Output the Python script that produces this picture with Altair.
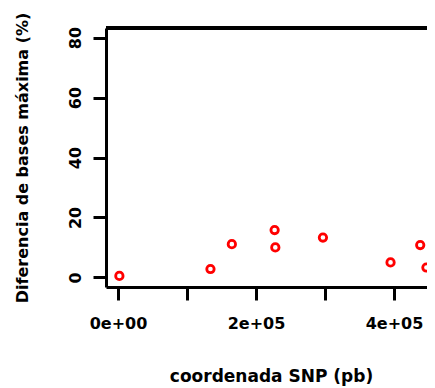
import altair as alt
import pandas as pd

x_pos = [2000, 134000, 165000, 227000, 228000, 297000, 395000, 438000, 447000]
y_diff = [0.5, 2.8, 11.1, 15.8, 10.0, 13.3, 5.0, 10.8, 3.3]
x_ticks = [0, 100000, 200000, 300000, 400000]
y_ticks = [0, 20, 40, 60, 80]

df = pd.DataFrame({"x": x_pos, "y": y_diff})

W, H = 321, 259
FONT = "DejaVu Sans"

x_scale = alt.Scale(domain=[-17391, 447826], nice=False, zero=False)
y_scale = alt.Scale(domain=[-3.2, 83.2], nice=False, zero=False)

points = alt.Chart(df).mark_point(
    shape="circle", filled=False, color="#ff0000", size=55, strokeWidth=2.8, opacity=1
).encode(
    x=alt.X("x:Q", scale=x_scale, title="coordenada SNP (pb)",
            axis=alt.Axis(values=x_ticks,
                          labelExpr="datum.value == 0 ? '0e+00' : (datum.value == 200000 ? '2e+05' : (datum.value == 400000 ? '4e+05' : ''))",
                          labelFontSize=16, labelPadding=15, titleFontSize=17, titlePadding=37,
                          titleX=165, titleAnchor="start", titleAlign="center")),
    y=alt.Y("y:Q", scale=y_scale, title="Diferencia de bases máxima (%)",
            axis=alt.Axis(values=y_ticks, labelAngle=-90, labelFontSize=16,
                          labelPadding=10, titleFontSize=16, titlePadding=37)),
)

top = alt.Chart(df).mark_rule(color="black", strokeWidth=3).encode(
    x=alt.value(0), x2=alt.value(W + 10), y=alt.value(0)
)

chart = (top + points).properties(
    width=W, height=H,
    autosize=alt.AutoSizeParams(type="none"),
    padding={"left": 98, "top": 20, "right": 0, "bottom": 100},
).configure_view(stroke=None).configure_axis(
    grid=False, domainColor="black", domainWidth=3, tickColor="black",
    tickWidth=3, tickSize=13, labelColor="black", titleColor="black",
    labelFont=FONT, titleFont=FONT, labelFontWeight="bold", titleFontWeight="bold",
    labelFlush=False, labelOverlap=False,
)

chart.save("out.html", embed_options={"renderer": "svg", "actions": False})
